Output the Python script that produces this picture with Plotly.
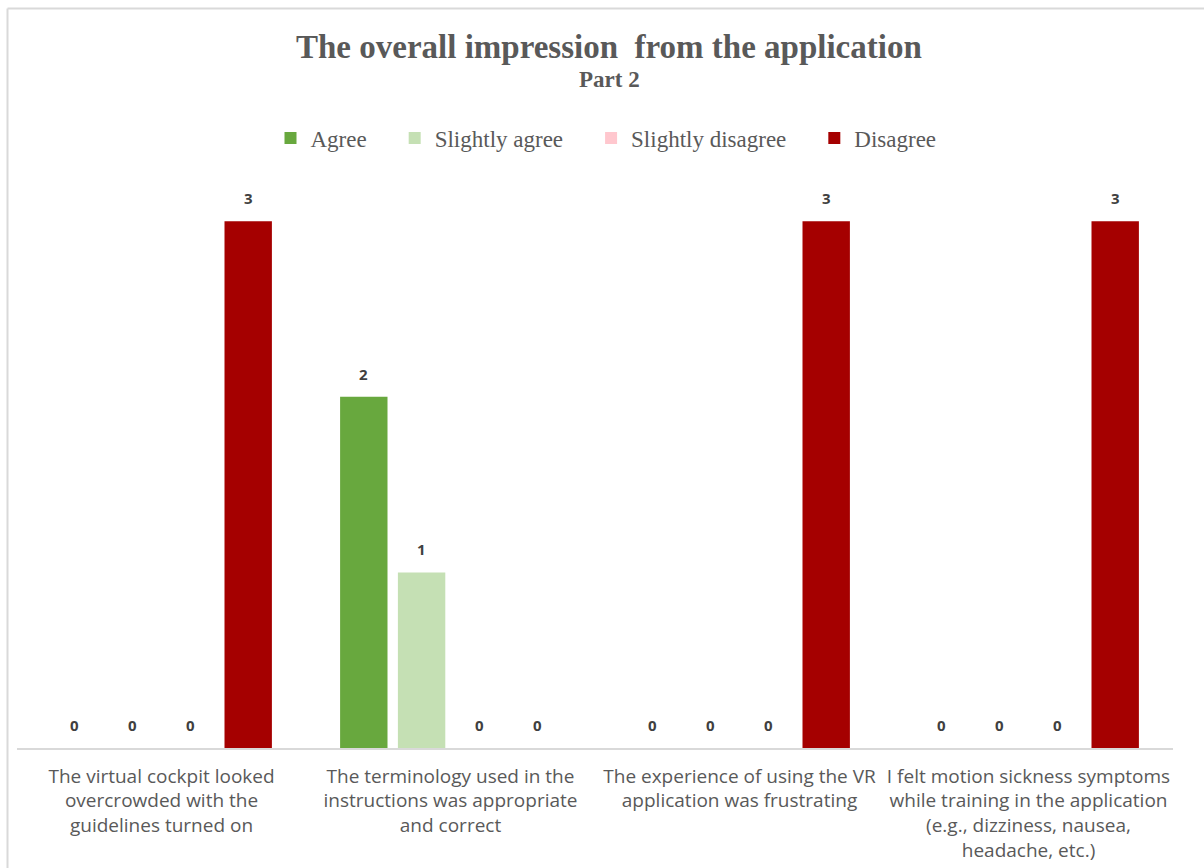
import plotly.graph_objects as go

# Survey statements (x-axis categories, line-broken as shown under each group)
categories = [
    "The virtual cockpit looked<br>overcrowded with the<br>guidelines turned on",
    "The terminology used in the<br>instructions was appropriate<br>and correct",
    "The experience of using the VR<br>application was frustrating",
    "I felt motion sickness symptoms<br>while training in the application<br>(e.g., dizziness, nausea,<br>headache, etc.)",
]

# Response counts per answer option
agree = [0, 2, 0, 0]
slightly_agree = [0, 1, 0, 0]
slightly_disagree = [0, 0, 0, 0]
disagree = [3, 0, 3, 3]

series_names = ["Agree", "Slightly agree", "Slightly disagree", "Disagree"]
series_values = [agree, slightly_agree, slightly_disagree, disagree]
series_colors = ["#68a83e", "#c5e0b4", "#ffc7ce", "#a50000"]

W, H = 1204, 868
M_L, M_R, M_T, M_B = 17, 31, 151, 120
Y_MAX = 3.4
BARGAP = 0.2
plot_w = W - M_L - M_R
plot_h = H - M_T - M_B

# Extra space after each legend entry (all but the last)
LEGEND_PAD = "\u00a0" * 4

fig = go.Figure()
for k, (name, vals, col) in enumerate(zip(series_names, series_values, series_colors)):
    label = name + (LEGEND_PAD if k < len(series_names) - 1 else "")
    fig.add_trace(go.Bar(
        name=label, x=categories, y=vals,
        marker=dict(color=col, line=dict(width=0)),
    ))

# Value labels above each bar
n_series = len(series_values)
slot_px = plot_w / len(categories) * (1 - BARGAP) / n_series
annotations = []
for i, vals in enumerate(series_values):
    for cat, v in zip(categories, vals):
        annotations.append(dict(
            x=cat, y=v, xref="x", yref="y",
            text=f"<b>{v}</b>", showarrow=False,
            xanchor="center", yanchor="bottom",
            xshift=(i - (n_series - 1) / 2) * slot_px, yshift=11,
            font=dict(family="Open Sans, Liberation Sans, sans-serif", size=15, color="#404040"),
        ))


def px_to_paper_y(py):
    return (H - M_B - py) / plot_h


def px_to_paper_x(px):
    return (px - M_L) / plot_w


# Chart title and subtitle
annotations.append(dict(
    x=px_to_paper_x(609), y=px_to_paper_y(47), xref="paper", yref="paper",
    text="<b>The overall impression\u00a0 from the application</b>", showarrow=False,
    xanchor="center", yanchor="middle",
    font=dict(family="Liberation Serif, Times New Roman, serif", size=33, color="#595959"),
))
annotations.append(dict(
    x=px_to_paper_x(609), y=px_to_paper_y(80), xref="paper", yref="paper",
    text="<b>Part 2</b>", showarrow=False,
    xanchor="center", yanchor="middle",
    font=dict(family="Liberation Serif, Times New Roman, serif", size=23, color="#595959"),
))

# Chart-area border (left and top edges)
border = dict(color="#d9d9d9", width=2)
shapes = [
    dict(type="line", xref="paper", yref="paper",
         x0=px_to_paper_x(7.5), x1=px_to_paper_x(7.5),
         y0=px_to_paper_y(8.5), y1=px_to_paper_y(H + 5), line=border),
    dict(type="line", xref="paper", yref="paper",
         x0=px_to_paper_x(7.5), x1=px_to_paper_x(W + 5),
         y0=px_to_paper_y(8.5), y1=px_to_paper_y(8.5), line=border),
]

fig.update_layout(
    width=W, height=H,
    margin=dict(l=M_L, r=M_R, t=M_T, b=M_B, autoexpand=False),
    paper_bgcolor="white", plot_bgcolor="white",
    barmode="group", bargap=BARGAP, bargroupgap=0.18,
    showlegend=True,
    legend=dict(
        orientation="h", x=px_to_paper_x(606), y=px_to_paper_y(138),
        xanchor="center", yanchor="middle",
        font=dict(family="Liberation Serif, Times New Roman, serif", size=23, color="#595959"),
        itemwidth=30, traceorder="normal",
    ),
    xaxis=dict(
        showline=True, linecolor="#d9d9d9", linewidth=1.5,
        ticks="", showgrid=False, automargin=False, ticklabelstandoff=10,
        tickfont=dict(family="Open Sans, Liberation Sans, sans-serif", size=19, color="#595959"),
    ),
    yaxis=dict(
        range=[0, Y_MAX], visible=False, showgrid=False, zeroline=False, automargin=False,
    ),
    annotations=annotations,
    shapes=shapes,
)

fig.write_html("out.html")
